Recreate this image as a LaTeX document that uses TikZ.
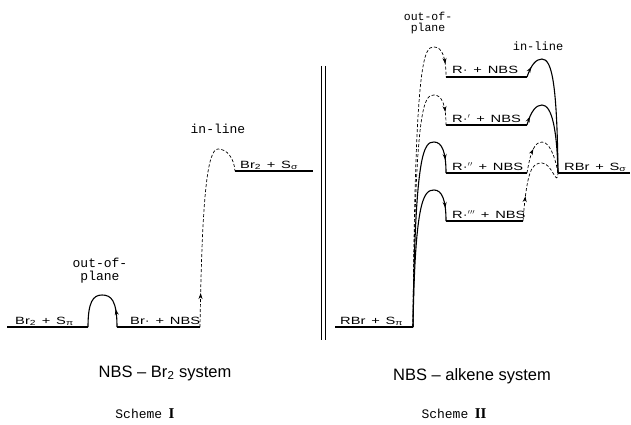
\documentclass[tikz,border=0pt]{standalone}
\usepackage{fontspec}
\setmainfont{Liberation Sans}
\setmonofont{Liberation Mono}
\newfontfamily\levelfont[FakeStretch=1.4]{Liberation Sans}
\newfontfamily\numeralfont{Liberation Serif}
\usetikzlibrary{arrows.meta, decorations.markings}
\newcommand{\lvplus}{\hspace{0.55em}+\hspace{0.55em}}

\tikzset{
  lvlline/.style={line width=1.5pt},
  pathsolid/.style={line width=1.1pt},
  pathdashed/.style={line width=0.7pt, dash pattern=on 3pt off 2pt},
  tipat/.style={postaction={decorate, decoration={markings,
      mark=at position #1 with {\arrow{Stealth[length=6pt, width=4pt]}}}}},
  lvllabel/.style={anchor=base west, inner sep=0pt,
      font=\levelfont\fontsize{10.5}{12}\selectfont},
  tag/.style={align=center, inner sep=0pt},
  caption/.style={anchor=base, inner sep=0pt, font=\fontsize{16.5}{18}\selectfont},
}

\begin{document}
\begin{tikzpicture}[x=1pt, y=-1pt]
  \useasboundingbox (0,0) rectangle (631,425);
  % Scheme I: energy levels
  \coordinate (brpiw) at (7,327);   \coordinate (brpie) at (88,327);
  \coordinate (brnw)  at (117,327); \coordinate (brne)  at (200,327);
  \coordinate (brsw)  at (235,171); \coordinate (brse)  at (313,171);
  \draw[lvlline] (brpiw) -- (brpie);
  \draw[lvlline] (brnw) -- (brne);
  \draw[lvlline] (brsw) -- (brse);
  \node[lvllabel] (brpi) at (15,324) {Br\textsubscript{2}\lvplus S\textsubscript{π}};
  \node[lvllabel] (brn)  at (130,324) {Br·\lvplus NBS};
  \node[lvllabel] (brs)  at (240,168) {Br\textsubscript{2}\lvplus S\textsubscript{σ}};
  % Scheme I: barriers
  \draw[pathsolid, tipat=18pt] (brnw) .. controls (117,300) and (111,295) .. (102,295)
    .. controls (93,295) and (88,302) .. (brpie);
  \draw[pathdashed, tipat=34pt] (brne) .. controls (202,200) and (207,149) .. (218,149)
    .. controls (227,149) and (234,158) .. (brsw);
  \node[tag, font=\ttfamily\fontsize{13}{13}\selectfont] (oopA) at (100,271) {out-of-\\plane};
  \node[tag, font=\ttfamily\fontsize{13}{13}\selectfont] (inlA) at (218,129) {in-line};

  % divider
  \draw[line width=0.8pt] (321,66) -- (321,340) (325,66) -- (325,340);

  % Scheme II: outer levels
  \coordinate (rbrpiw) at (335,327); \coordinate (rbrpie) at (413,327);
  \coordinate (rbrsw)  at (558,173); \coordinate (rbrse)  at (630,173);
  \draw[lvlline] (rbrpiw) -- (rbrpie);
  \draw[lvlline] (rbrsw) -- (rbrse);
  \node[lvllabel] (rbrpi) at (340,324) {RBr\lvplus S\textsubscript{π}};
  \node[lvllabel] (rbrs)  at (564,170) {RBr\lvplus S\textsubscript{σ}};
  % Scheme II: radical levels with both barriers
  \foreach \y/\ex/\mk/\op/\os/\ip/\is/\ta [count=\n] in
    {77/527//47/pathdashed/59/pathsolid/11pt,
     125/527/$'$/95/pathdashed/105/pathsolid/9pt,
     173/527/$''$/142/pathsolid/142/pathdashed/25pt,
     221/523/$'''$/190/pathsolid/163/pathdashed/25pt}{%
    \coordinate (r\n w) at (446,\y);
    \coordinate (r\n e) at (\ex,\y);
    \draw[lvlline] (r\n w) -- (r\n e);
    \node[lvllabel] (r\n) at (452,\y-3) {R·\mk\lvplus NBS};
    \draw[\os, tipat=-13pt] (rbrpie) .. controls (415,\op+8) and (424,\op) .. (434,\op)
      .. controls (442,\op) and (446,\op+10) .. (r\n w);
    \draw[\is, tipat=\ta] (r\n e) .. controls (\ex+4,\ip+6) and (\ex+9,\ip) .. (542,\ip)
      .. controls (552,\ip) and (557,\ip+25) .. (rbrsw);}
  \node[tag, font=\ttfamily\fontsize{11.5}{11}\selectfont] (oopB) at (428,23) {out-of-\\plane};
  \node[tag, font=\ttfamily\fontsize{12}{12}\selectfont] (inlB) at (538,46) {in-line};

  % captions
  \node[caption] (capA) at (165,377) {NBS -- Br\textsubscript{2} system};
  \node[caption] (capB) at (472,380) {NBS -- alkene system};
  \node[anchor=base, inner sep=0pt] (schA) at (145,418)
    {\ttfamily\fontsize{13}{13}\selectfont Scheme\enspace{\numeralfont\bfseries\fontsize{15}{15}\selectfont I}};
  \node[anchor=base, inner sep=0pt] (schB) at (454,418)
    {\ttfamily\fontsize{13}{13}\selectfont Scheme\enspace{\numeralfont\bfseries\fontsize{15}{15}\selectfont II}};
\end{tikzpicture}
\end{document}
